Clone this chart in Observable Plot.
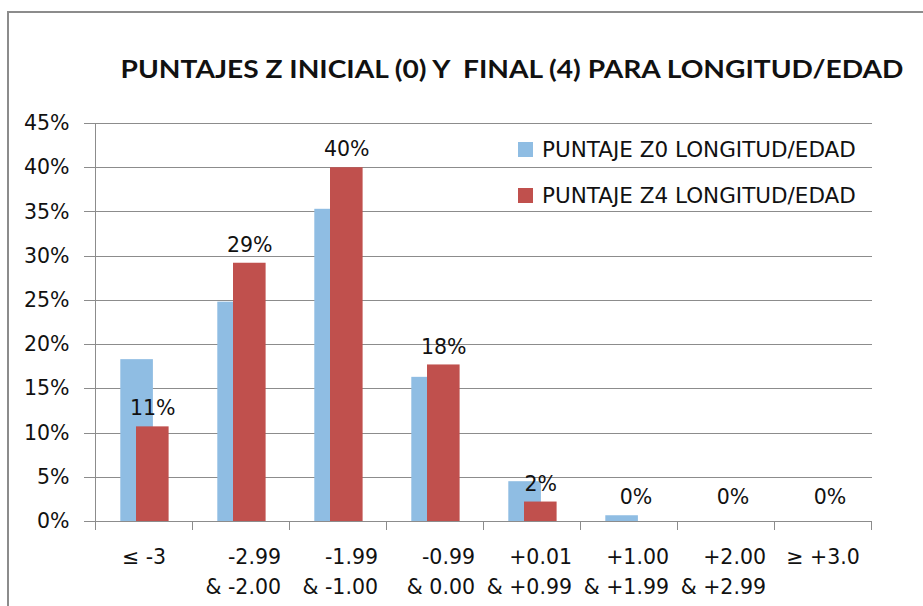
<!DOCTYPE html>
<html><head><meta charset="utf-8">
<script src="https://cdn.jsdelivr.net/npm/d3@7"></script>
<script src="https://cdn.jsdelivr.net/npm/@observablehq/plot@0.6"></script>
<style>
html,body{margin:0;padding:0;background:#fff;overflow:hidden;width:923px;height:606px;position:relative;}
#frame{position:absolute;left:7px;top:11px;width:1000px;height:700px;border:2px solid #8c8c8c;}
#chart{position:absolute;left:0;top:0;}
.leg{position:absolute;left:518px;height:20px;display:flex;align-items:center;font-family:"DejaVu Sans",sans-serif;font-size:21.5px;color:#111;white-space:nowrap;}
.sw{display:inline-block;width:15px;height:15px;margin-right:9px;}
</style></head>
<body>
<div id="frame"></div>
<div id="chart"></div>
<div id="legend"></div>
<script>
const categories = ["≤ -3", "-2.99\n& -2.00", "-1.99\n& -1.00", "-0.99\n& 0.00", "+0.01\n& +0.99", "+1.00\n& +1.99", "+2.00\n& +2.99", "≥ +3.0"];
const z0Values = [18.3, 24.8, 35.3, 16.3, 4.5, 0.65, 0, 0];
const z4Values = [10.7, 29.2, 40.0, 17.7, 2.2, 0, 0, 0];
const seriesNames = ["PUNTAJE Z0 LONGITUD/EDAD", "PUNTAJE Z4 LONGITUD/EDAD"];
const seriesColors = ["#8FBDE3", "#C0504D"];
const yTicks = [0, 5, 10, 15, 20, 25, 30, 35, 40, 45];
const titleText = "PUNTAJES Z INICIAL (0) Y  FINAL (4) PARA LONGITUD/EDAD";

const data = categories.map((c, i) => ({cat: c, z0: z0Values[i], z4: z4Values[i]}));
const gridColor = "#8c8c8c";
const textColor = "#111";

function categoryTicks(index, scales) {
  const {x, y} = scales;
  const bw = x.bandwidth();
  const y0 = y(0), yTop = y(45);
  const g = d3.create("svg:g").attr("stroke", gridColor).attr("shape-rendering", "crispEdges");
  categories.forEach((c, i) => {
    const xl = x(c);
    g.append("line").attr("x1", xl).attr("x2", xl).attr("y1", i === 0 ? yTop : y0).attr("y2", y0 + 9);
  });
  const xr = x(categories[categories.length - 1]) + bw;
  g.append("line").attr("x1", xr).attr("x2", xr).attr("y1", y0).attr("y2", y0 + 9);
  return g.node();
}

const chart = Plot.plot({
  width: 923, height: 606,
  marginTop: 123, marginBottom: 85, marginLeft: 93, marginRight: 51,
  style: {fontFamily: "'DejaVu Sans', sans-serif", fontSize: "20.5px", color: textColor, background: "transparent", overflow: "visible"},
  x: {domain: categories, padding: 0, axis: null},
  y: {domain: [0, 45], axis: null},
  marks: [
    Plot.gridY(yTicks, {stroke: gridColor, strokeOpacity: 1, strokeWidth: 1, shapeRendering: "crispEdges"}),
    Plot.axisY(yTicks, {tickSize: 9, tickPadding: 15, tickFormat: d => d + "%", stroke: gridColor, fill: textColor, shapeRendering: "crispEdges"}),
    categoryTicks,
    Plot.barY(data, {x: "cat", y: "z0", fill: seriesColors[0], insetLeft: 25.3, insetRight: 39.1}),
    Plot.barY(data, {x: "cat", y: "z4", fill: seriesColors[1], insetLeft: 41, insetRight: 23.4}),
    Plot.text(data.filter(d => d.z4 > 0), {x: "cat", y: "z4", text: d => Math.round(d.z4) + "%", dx: 8.8, dy: -18, fill: textColor}),
    Plot.text(data.filter(d => d.z4 === 0), {x: "cat", y: "z4", text: d => Math.round(d.z4) + "%", dx: 7, dy: -24, fill: textColor}),
    Plot.text(data.filter(d => !d.cat.includes("\n")), {x: "cat", text: "cat", frameAnchor: "bottom", lineAnchor: "middle", dy: 36, textAnchor: "middle", fill: textColor}),
    Plot.text(data.filter(d => d.cat.includes("\n")), {x: "cat", text: "cat", frameAnchor: "bottom", lineAnchor: "middle", dy: 48, dx: 40, textAnchor: "end", lineHeight: 1.46, fill: textColor}),
    Plot.text([titleText], {text: d => d, frameAnchor: "top", dx: 29, dy: -63, fontFamily: "Lato, sans-serif", fontWeight: "bold", fontSize: 24, fill: textColor})
  ]
});
document.getElementById("chart").appendChild(chart);
const t = Array.from(chart.querySelectorAll("text")).find(e => e.textContent === titleText);
if (t) { t.setAttribute("textLength", 783); t.setAttribute("lengthAdjust", "spacingAndGlyphs"); }

const leg = document.getElementById("legend");
seriesNames.forEach((name, i) => {
  const row = document.createElement("div");
  row.className = "leg";
  row.style.top = (139 + i * 46) + "px";
  const sw = document.createElement("span");
  sw.className = "sw";
  sw.style.background = seriesColors[i];
  row.appendChild(sw);
  row.appendChild(document.createTextNode(name));
  leg.appendChild(row);
});
</script>
</body></html>
